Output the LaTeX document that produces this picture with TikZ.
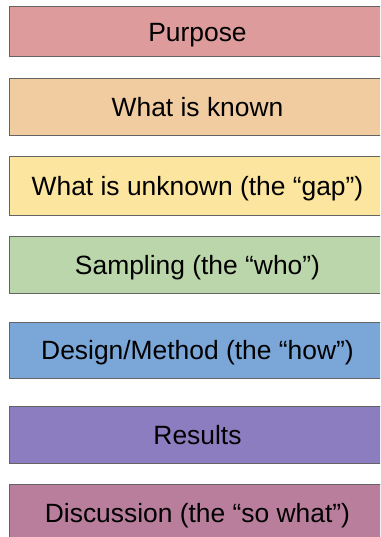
\documentclass[tikz,border=0pt]{standalone}
\usepackage{fontspec}
\setmainfont{Liberation Sans}
\definecolor{purposeRed}{RGB}{221,155,155}
\definecolor{knownOrange}{RGB}{242,204,161}
\definecolor{gapYellow}{RGB}{252,229,158}
\definecolor{whoGreen}{RGB}{187,214,170}
\definecolor{howBlue}{RGB}{122,166,216}
\definecolor{resultsPurple}{RGB}{140,125,192}
\definecolor{sowhatMagenta}{RGB}{184,126,156}
\begin{document}
\begin{tikzpicture}[x=1pt,y=1pt,yscale=-1,xscale=1,
	stage/.style={draw={rgb,255:red,100;green,100;blue,100},line width=1pt,
		minimum width=377pt,minimum height=57pt,inner sep=0pt,
		text height=19pt,text depth=0pt,font=\fontsize{26.4}{30}\selectfont}]
	%set diagram left start at 0, and has height of 537
	\useasboundingbox (0,0) rectangle (380,537);
	\clip (0,0) rectangle (380,537);
	
	%Shape: Rectangle [id:purpose]
	\node [stage,fill=purposeRed,minimum height=50pt] (purpose) at (197.5,32) {Purpose};
	%Shape: Rectangle [id:known]
	\node [stage,fill=knownOrange] (known) at (197.5,107.5) {What is known};
	%Shape: Rectangle [id:gap]
	\node [stage,fill=gapYellow,minimum height=58pt] (gap) at (197.5,186) {What is unknown (the “gap”)};
	%Shape: Rectangle [id:who]
	\node [stage,fill=whoGreen] (who) at (197.5,264.5) {Sampling (the “who”)};
	%Shape: Rectangle [id:how]
	\node [stage,fill=howBlue,minimum height=56pt] (how) at (197.5,350) {Design/Method (the “how”)};
	%Shape: Rectangle [id:results]
	\node [stage,fill=resultsPurple] (results) at (197.5,434.5) {Results};
	%Shape: Rectangle [id:sowhat]
	\node [stage,fill=sowhatMagenta] (sowhat) at (197.5,512.5) {Discussion (the “so what”)};
	
\end{tikzpicture}
\end{document}
